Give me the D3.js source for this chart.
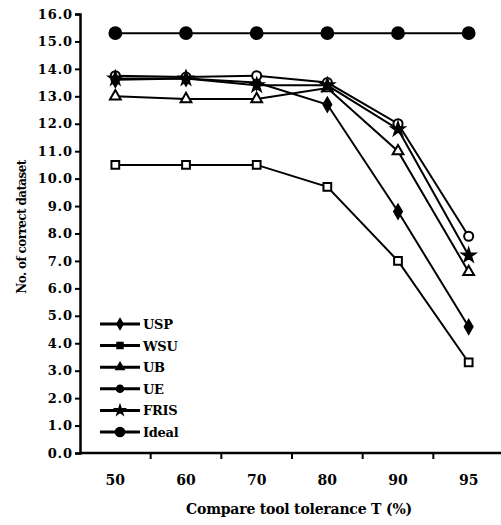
<!DOCTYPE html>
<html lang="en">
<head>
  <meta charset="UTF-8">
  <script src="https://d3js.org/d3.v7.min.js"></script>
  <style>
    body { margin: 0; background: #fff; }
    text { font-family: "DejaVu Serif", "Liberation Serif", serif; font-weight: bold; }
  </style>
</head>
<body>
  <script type="text/javascript">
    // tolerance categories (x) and values for each tool
    var tolerance = ["50", "60", "70", "80", "90", "95"];
    var usp = [13.6, 13.65, 13.5, 12.7, 8.8, 4.6];
    var wsu = [10.5, 10.5, 10.5, 9.7, 7.0, 3.3];
    var ub = [13.0, 12.9, 12.9, 13.3, 11.0, 6.6];
    var ue = [13.75, 13.7, 13.75, 13.5, 12.0, 7.9];
    var fris = [13.65, 13.65, 13.4, 13.4, 11.8, 7.2];
    var ideal = [15.3, 15.3, 15.3, 15.3, 15.3, 15.3];
    var yTicks = d3.range(0, 17, 1);

    var series = [
      { name: "USP", values: usp, shape: d3.symbolDiamond, size: 55, fill: "#000" },
      { name: "WSU", values: wsu, shape: d3.symbolSquare, size: 60, fill: "#fff" },
      { name: "UB", values: ub, shape: d3.symbolTriangle, size: 50, fill: "#fff" },
      { name: "UE", values: ue, shape: d3.symbolCircle, size: 65, fill: "#fff" },
      { name: "FRIS", values: fris, shape: d3.symbolStar, size: 50, fill: "#000" },
      { name: "Ideal", values: ideal, shape: d3.symbolCircle, size: 110, fill: "#000" }
    ];

    const w = 501, h = 525;
    var svg = d3.select("body").append("svg")
      .attr("width", w)
      .attr("height", h);

    var x = d3.scaleBand().domain(tolerance).range([80, 504]);
    var y = d3.scaleLinear().domain([0, 16]).range([453, 14]);

    // y axis
    var yAxis = d3.axisLeft(y).tickValues(yTicks).tickFormat(d3.format(".1f")).tickSize(5);
    var gy = svg.append("g").attr("transform", "translate(80,0)").call(yAxis);
    gy.select(".domain").attr("stroke-width", 2.5);
    gy.selectAll(".tick line").attr("stroke-width", 2);
    gy.selectAll(".tick text")
      .attr("font-family", "DejaVu Serif")
      .attr("font-size", 13).attr("x", -7).attr("letter-spacing", 0.9);

    // x axis: line, ticks at band edges, labels at centers
    svg.append("line")
      .attr("x1", 80).attr("x2", 501)
      .attr("y1", 453).attr("y2", 453)
      .attr("stroke", "#000").attr("stroke-width", 2.5);

    svg.selectAll(".xtick")
      .data(tolerance.slice(1))
      .enter()
      .append("line")
      .attr("class", "xtick")
      .attr("x1", function (d) { return x(d); })
      .attr("x2", function (d) { return x(d); })
      .attr("y1", 453).attr("y2", 459)
      .attr("stroke", "#000").attr("stroke-width", 2);

    svg.selectAll(".xlab")
      .data(tolerance)
      .enter()
      .append("text")
      .attr("class", "xlab")
      .attr("x", function (d) { return x(d) + x.bandwidth() / 2; })
      .attr("y", 485)
      .attr("text-anchor", "middle")
      .attr("font-size", 14)
      .text(function (d) { return d; });

    // axis titles
    svg.append("text")
      .attr("x", 299).attr("y", 514)
      .attr("text-anchor", "middle")
      .attr("font-size", 14)
      .attr("letter-spacing", -0.2)
      .text("Compare tool tolerance T (%)");

    svg.append("text")
      .attr("transform", "translate(26,227) rotate(-90)")
      .attr("text-anchor", "middle")
      .attr("font-size", 12)
      .attr("letter-spacing", -0.6)
      .text("No. of correct dataset");

    // lines and markers
    var line = d3.line()
      .x(function (d, i) { return x(tolerance[i]) + x.bandwidth() / 2; })
      .y(function (d) { return y(d); });

    series.forEach(function (s) {
      svg.append("path")
        .attr("d", line(s.values))
        .attr("fill", "none")
        .attr("stroke", "#000")
        .attr("stroke-width", 2);

      svg.selectAll(null)
        .data(s.values)
        .enter()
        .append("path")
        .attr("d", d3.symbol().type(s.shape).size(s.size))
        .attr("transform", function (d, i) {
          return "translate(" + (x(tolerance[i]) + x.bandwidth() / 2) + "," + y(d) + ")";
        })
        .attr("fill", s.fill)
        .attr("stroke", "#000")
        .attr("stroke-width", 2);
    });

    // legend
    var legend = svg.selectAll(".legend")
      .data(series)
      .enter()
      .append("g")
      .attr("class", "legend")
      .attr("transform", function (d, i) { return "translate(100," + (324 + i * 21.6) + ")"; });

    legend.append("line")
      .attr("x1", 0).attr("x2", 40)
      .attr("stroke", "#000").attr("stroke-width", 3);

    legend.append("path")
      .attr("d", function (d) { return d3.symbol().type(d.shape).size(d.size * 0.6)(); })
      .attr("transform", "translate(20,0)")
      .attr("fill", "#000")
      .attr("stroke", "#000")
      .attr("stroke-width", 1.5);

    legend.append("text")
      .attr("x", 43)
      .attr("y", 5)
      .attr("font-size", 13)
      .attr("letter-spacing", -0.3)
      .text(function (d) { return d.name; });
  </script>
</body>
</html>
